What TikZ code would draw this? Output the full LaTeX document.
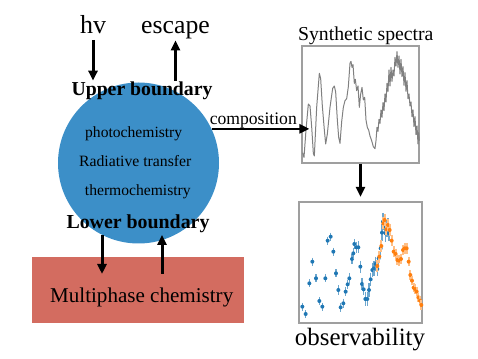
\documentclass[tikz,border=0pt]{standalone}
\usepackage{fontspec}
\setmainfont{Liberation Serif}
\usetikzlibrary{positioning,arrows.meta}
\definecolor{atmblue}{RGB}{60,143,200}
\definecolor{multired}{RGB}{211,108,96}
\definecolor{obsblue}{RGB}{31,119,180}
\definecolor{obsorange}{RGB}{255,127,14}

\begin{document}
\begin{tikzpicture}[x=0.75pt,y=-0.75pt,
  sig/.style={-{Triangle[length=7.5pt,width=6.75pt]},line width=2.25pt},
  frame/.style={draw=gray!75,line width=0.8pt,inner sep=0},
  lbl/.style={anchor=base,inner sep=1pt}]
\useasboundingbox (0,0) rectangle (478,359);
% atmosphere column
\node[circle,fill=atmblue,minimum size=120.75pt,inner sep=0] (atm) at (138.5,163) {};
\node[lbl,font=\fontsize{14.8pt}{16pt}\selectfont\bfseries] (upper) at (142,96) {Upper boundary};
\node[lbl,font=\fontsize{14.9pt}{16pt}\selectfont\bfseries] (lower) at (138,229) {Lower boundary};
\node[lbl,font=\fontsize{11.7pt}{13pt}\selectfont] (photo) at (133.7,137.5) {photochemistry};
\node[lbl,font=\fontsize{11.8pt}{13pt}\selectfont] (radtr) at (135.2,166.5) {Radiative transfer};
\node[lbl,font=\fontsize{11.7pt}{13pt}\selectfont] (thermo) at (137.8,196) {thermochemistry};
% top fluxes
\node[lbl,font=\fontsize{19.5pt}{21pt}\selectfont] (hv) at (93,33.3) {hv};
\node[lbl,font=\fontsize{19.3pt}{21pt}\selectfont] (escape) at (175.5,33.3) {escape};
\draw[sig,shorten <=3.5pt] (hv.south) -- (hv.south |- upper.north);
\draw[sig] (escape.south |- upper.north) -- (escape.south);
% surface
\node[fill=multired,minimum width=159pt,minimum height=49.5pt,inner sep=0] (multi) at (138,290) {};
\node[lbl,font=\fontsize{15.8pt}{17pt}\selectfont] (multitext) at (141.7,302.7) {Multiphase chemistry};
\coordinate (mdown) at (102,274);
\coordinate (mup) at (162,274);
\draw[sig] (mdown |- lower.south) -- (mdown);
\draw[sig] (mup) -- (mup |- lower.south);
% synthetic spectra
\node[frame,minimum width=87.75pt,minimum height=87.75pt] (spec) at (360.5,104.5) {};
\node[lbl,font=\fontsize{14.8pt}{16pt}\selectfont] (spectitle) at (365.8,40.7) {Synthetic spectra};
\begin{scope}[shift={(290,20)},x=0.25pt,y=-0.25pt]
\draw[gray,line width=0.75pt,line join=round]
  (38,398) -- (42,412) -- (48,330) -- (55,252) -- (60,258) -- (65,320) -- (70,400)
  -- (73,408) -- (80,262) -- (88,160) -- (92,176) -- (97,258) -- (103,330) -- (107,372)
  -- (112,342) -- (120,262) -- (128,205) -- (133,198) -- (137,216) -- (142,300)
  -- (146,352) -- (150,370) -- (155,305) -- (160,262) -- (165,242) -- (170,236)
  -- (175,200) -- (180,130) -- (183,124) -- (186,142) -- (189,134) -- (193,190)
  -- (196,178) -- (200,212) -- (204,198) -- (208,262) -- (212,222) -- (216,202)
  -- (220,240) -- (224,232) -- (228,300) -- (232,322) -- (236,330) -- (240,348)
  -- (245,362) -- (250,380) -- (255,386) -- (258,362) -- (261,322) -- (264,334)
  -- (267,298) -- (270,310) -- (273,270) -- (276,292) -- (279,248) -- (282,272)
  -- (285,222) -- (288,246) -- (291,190) -- (294,214) -- (297,150) -- (300,198)
  -- (303,142) -- (306,184) -- (309,150) -- (312,168) -- (315,112) -- (318,138)
  -- (321,95) -- (324,142) -- (327,108) -- (330,162) -- (333,118) -- (336,170)
  -- (339,140) -- (342,196) -- (345,158) -- (348,214) -- (351,182) -- (354,236)
  -- (357,222) -- (360,258) -- (363,246) -- (366,290) -- (369,270) -- (372,320)
  -- (375,290) -- (378,344) -- (381,318) -- (384,372) -- (386,338) -- (388,362);
\end{scope}
\draw[sig,line width=1.8pt,shorten >=-6pt] (atm.25) -- (atm.25 -| spec.west);
\node[lbl,font=\fontsize{13.2pt}{15pt}\selectfont] (comp) at (253.3,124.3) {composition};
% observability
\node[frame,minimum width=92.25pt,minimum height=90.75pt] (obs) at (360.5,262.5) {};
\node[lbl,font=\fontsize{18.7pt}{20pt}\selectfont] (obstitle) at (360,345) {observability};
\draw[sig,shorten >=3.5pt] (spec.south) -- (obs.north);
\begin{scope}[shift={(290,190)},x=0.25pt,y=-0.25pt]
\foreach \px/\py/\e in {37/350/12,47/372/12,58/280/12,67/215/12,78/265/12,88/333/12,
  97/350/12,106/265/12,113/152/12,122/140/12,130/185/12,138/250/12,145/300/14,
  152/352/14,160/340/14,167/305/14,173/283/14,178/265/16,186/207/16,190/190/16,
  193/162/14,199/172/16,205/172/18,211/230/18,216/282/18,221/298/18,226/327/20,
  232/327/22,237/300/20,242/268/20,247/240/22,252/235/22,257/222/22,262/237/22,
  266/205/22,272/175/25,276/128/25,279/95/25,283/108/25,287/130/25,291/115/25,
  294/110/25,297/130/22}{
  \draw[obsblue!65,line width=1.2pt] (\px,\py-\e) -- (\px,\py+\e);
  \fill[obsblue] (\px,\py) circle (1.5pt);
}
\foreach \px/\py/\e in {262/228/18,268/200/18,274/168/18,280/100/18,284/90/18,
  289/118/18,294/105/18,299/120/18,305/152/16,311/185/16,317/192/16,322/210/16,
  327/212/16,333/207/16,339/180/16,344/175/16,350/175/16,356/215/14,361/255/14,
  366/272/14,371/293/14,375/297/14,380/305/14,385/322/14,390/332/14,394/345/14}{
  \draw[obsorange!50,line width=1.4pt] (\px,\py-\e) -- (\px,\py+\e);
  \fill[obsorange] (\px,\py) circle (1.5pt);
}
\end{scope}
\end{tikzpicture}
\end{document}
